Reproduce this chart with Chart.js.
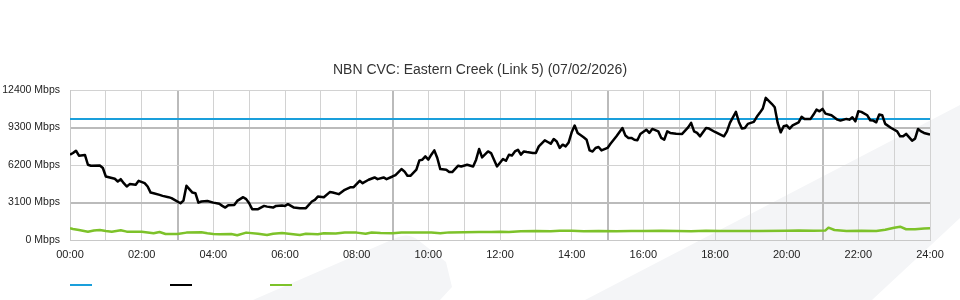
<!DOCTYPE html>
<html lang="en">
<head>
    <meta charset="UTF-8">
    <title>NBN CVC: Eastern Creek (Link 5)</title>
    <script src="https://cdn.jsdelivr.net/npm/chart.js@4.4.0/dist/chart.umd.min.js"></script>
    <style>
        body { margin: 0; background: #fff; }
        #wrap { position: relative; width: 960px; height: 300px; overflow: hidden; }
        #wrap svg, #wrap canvas { position: absolute; left: 0; top: 0; }
        #title { position: absolute; left: 0; top: 61px; width: 960px; text-align: center;
                 font: 14px/16px "Liberation Sans", Arial, sans-serif; color: #333; }
        .key { position: absolute; top: 284px; width: 22px; height: 2px; }
    </style>
</head>
<body>
<div id="wrap">
    <svg width="960" height="300">
        <polygon points="960,105 960,218 872,300 585,300" fill="#f4f5f7"/>
        <path d="M253,300 L396,238 Q408,232 418,240 L446,262 L452,287 L440,300 Z" fill="#f4f5f7"/>
    </svg>
    <canvas id="cvcChart" width="960" height="300"></canvas>
    <div id="title">NBN CVC: Eastern Creek (Link 5) (07/02/2026)</div>
    <div class="key" style="left:70px;background:#1a9fdb"></div>
    <div class="key" style="left:170px;background:#000"></div>
    <div class="key" style="left:270px;background:#7dc22a"></div>
</div>

<script>
    // times are minutes after midnight, values in Mbps
    const capacity = 10000;

    const usageTimes = [
        0, 5, 10, 15, 25, 30, 35, 50, 55, 60,
        70, 75, 80, 85, 90, 95, 100, 110, 115, 125,
        130, 135, 140, 150, 155, 165, 170, 175, 185, 190,
        195, 205, 210, 215, 220, 230, 240, 250, 255, 260,
        265, 275, 280, 290, 295, 300, 305, 315, 325, 330,
        340, 345, 355, 360, 365, 375, 385, 395, 405, 410,
        415, 425, 435, 440, 450, 460, 470, 475, 485, 490,
        500, 510, 515, 525, 530, 540, 545, 555, 560, 565,
        570, 580, 585, 590, 595, 600, 605, 610, 615, 620,
        630, 635, 640, 650, 655, 665, 675, 680, 685, 690,
        700, 705, 715, 725, 730, 735, 740, 745, 750, 755,
        760, 765, 775, 780, 785, 795, 800, 805, 810, 815,
        820, 825, 830, 835, 840, 845, 850, 860, 865, 870,
        875, 880, 885, 890, 900, 905, 915, 925, 930, 935,
        940, 945, 950, 955, 965, 970, 975, 985, 990, 995,
        1000, 1005, 1015, 1025, 1035, 1040, 1045, 1050, 1055, 1065,
        1070, 1080, 1095, 1100, 1105, 1115, 1120, 1125, 1130, 1135,
        1145, 1150, 1155, 1160, 1165, 1175, 1180, 1185, 1190, 1195,
        1200, 1205, 1210, 1220, 1225, 1230, 1240, 1245, 1250, 1255,
        1260, 1265, 1275, 1285, 1290, 1300, 1305, 1310, 1315, 1320,
        1325, 1335, 1340, 1345, 1350, 1355, 1360, 1365, 1375, 1385,
        1390, 1395, 1400, 1410, 1415, 1420, 1425, 1430, 1440
    ];
    const usageValues = [
        7050, 7190, 7380, 6970, 7030, 6220, 6140, 6160, 5950, 5250,
        5120, 5060, 4840, 5030, 4700, 4420, 4620, 4560, 4890, 4700,
        4420, 3920, 3870, 3730, 3650, 3540, 3460, 3320, 3040, 3260,
        4480, 3920, 3870, 3090, 3180, 3230, 3090, 2990, 2820, 2680,
        2880, 2900, 3230, 3540, 3380, 3040, 2550, 2550, 2820, 2760,
        2680, 2820, 2850, 2820, 2960, 2680, 2630, 2630, 3180, 3320,
        3590, 3540, 3960, 3920, 3790, 4150, 4370, 4370, 4890, 4700,
        4980, 5170, 5030, 5170, 5030, 5250, 5370, 5860, 5670, 5310,
        5310, 5810, 6580, 6640, 6910, 6640, 7050, 7410, 6780, 5860,
        5810, 5620, 5620, 6140, 6080, 6220, 6080, 6640, 7520, 6830,
        7320, 7190, 6080, 6690, 6550, 7050, 6990, 7320, 7460, 7050,
        7320, 7270, 7190, 7190, 7740, 8240, 8100, 7960, 8350, 8150,
        7610, 7880, 7740, 8070, 8900, 9460, 8850, 8490, 8290, 7410,
        7320, 7610, 7690, 7410, 7610, 7960, 8570, 9260, 8630, 8440,
        8440, 8290, 8240, 8770, 9120, 8850, 9180, 8980, 8440, 8290,
        8980, 8850, 8790, 8770, 9310, 9680, 8980, 8850, 8570, 9260,
        9210, 8930, 8570, 8980, 9680, 10590, 9760, 9210, 9260, 9600,
        9760, 10180, 10510, 10870, 11750, 11260, 10970, 9680, 8900, 9400,
        9480, 9210, 9480, 9730, 10180, 10010, 10010, 10370, 10780, 10640,
        10840, 10450, 10310, 9950, 9870, 10010, 9950, 10140, 9810, 10640,
        10590, 10310, 9900, 9870, 9730, 10370, 10310, 9600, 9260, 8980,
        8570, 8570, 8770, 8210, 8380, 9180, 8980, 8850, 8710
    ];

    const upTimes = [
        0, 5, 15, 30, 40, 50, 60, 70, 85, 95,
        110, 120, 140, 150, 160, 180, 195, 220, 230, 240,
        250, 270, 280, 295, 315, 330, 340, 355, 370, 385,
        395, 415, 425, 445, 460, 480, 495, 505, 520, 540,
        555, 605, 620, 635, 660, 685, 705, 720, 735, 755,
        780, 805, 820, 840, 860, 885, 915, 940, 960, 990,
        1015, 1040, 1065, 1090, 1120, 1155, 1200, 1220, 1245, 1265,
        1270, 1280, 1300, 1325, 1350, 1365, 1380, 1390, 1400, 1415,
        1430, 1440
    ];
    const upValues = [
        970, 910, 830, 690, 790, 830, 750, 690, 800, 690,
        690, 690, 560, 660, 500, 500, 610, 640, 560, 500,
        470, 500, 390, 610, 520, 410, 520, 580, 500, 410,
        520, 470, 560, 540, 620, 610, 510, 620, 580, 560,
        610, 610, 560, 630, 650, 660, 670, 690, 660, 720,
        750, 730, 760, 770, 730, 750, 720, 750, 750, 770,
        750, 730, 760, 750, 750, 750, 770, 790, 760, 790,
        1020, 830, 750, 770, 750, 850, 1020, 1100, 890, 890,
        950, 970
    ];

    const yTicks = [0, 3100, 6200, 9300, 12400];
    const hourLabels = ['00:00', '02:00', '04:00', '06:00', '08:00', '10:00', '12:00',
                        '14:00', '16:00', '18:00', '20:00', '22:00', '24:00'];

    const toPoints = (xs, ys) => xs.map((t, i) => ({ x: t, y: ys[i] }));
    const font = '"Liberation Sans", Arial, sans-serif';

    const thickX = c => c.tick && c.tick.value % 360 === 180;
    const thickY = c => c.tick && (c.tick.value === yTicks[1] || c.tick.value === yTicks[3]);

    new Chart(document.getElementById('cvcChart'), {
        type: 'line',
        data: {
            datasets: [{
                data: [{ x: 0, y: capacity }, { x: 1440, y: capacity }],
                borderColor: '#1a9fdb',
                borderWidth: 2,
                order: 1
            }, {
                data: toPoints(usageTimes, usageValues),
                borderColor: '#000',
                borderWidth: 2.5,
                order: 0
            }, {
                data: toPoints(upTimes, upValues),
                borderColor: '#7dc22a',
                borderWidth: 2.5,
                order: 2
            }]
        },
        options: {
            responsive: false,
            animation: false,
            devicePixelRatio: 1,
            elements: {
                point: { radius: 0 },
                line: { tension: 0, borderJoinStyle: 'round', fill: false }
            },
            layout: { padding: { left: 0, right: 30, top: 90, bottom: 0 } },
            plugins: {
                legend: { display: false },
                tooltip: { enabled: false },
                title: { display: false }
            },
            scales: {
                x: {
                    type: 'linear',
                    min: 0,
                    max: 1440,
                    afterFit: s => { s.height = 60; },
                    ticks: {
                        stepSize: 60,
                        autoSkip: false,
                        maxRotation: 0,
                        padding: 8,
                        color: '#222',
                        font: { family: font, size: 11 },
                        callback: v => v % 120 === 0 ? hourLabels[v / 120] : ''
                    },
                    grid: {
                        drawTicks: false,
                        color: c => thickX(c) ? '#bbbbbb' : '#d2d2d2',
                        lineWidth: c => thickX(c) ? 2 : 1
                    },
                    border: { color: '#c8c8c8' }
                },
                y: {
                    min: 0,
                    max: 12400,
                    afterFit: s => { s.width = 70; },
                    ticks: {
                        stepSize: 3100,
                        padding: 10,
                        color: '#222',
                        font: { family: font, size: 10.5 },
                        callback: v => v + ' Mbps'
                    },
                    grid: {
                        drawTicks: false,
                        color: c => thickY(c) ? '#bbbbbb' : '#d2d2d2',
                        lineWidth: c => thickY(c) ? 2 : 1
                    },
                    border: { color: '#c8c8c8' }
                }
            }
        }
    });
</script>
</body>
</html>
